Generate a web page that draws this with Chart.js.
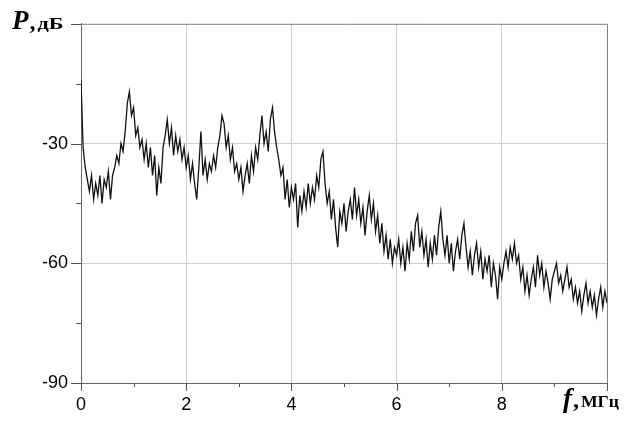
<!DOCTYPE html>
<html>
<head>
<meta charset="utf-8">
<script src="https://cdn.jsdelivr.net/npm/chart.js@4"></script>
<style>
  html, body { margin: 0; padding: 0; background: #fff; }
  #wrap { width: 632px; height: 421px; }
</style>
</head>
<body>
<div id="wrap"><canvas id="spectrumChart" width="632" height="421"></canvas></div>
<script>
// spectrum samples, 0..10 MHz, step 0.04 MHz
const fStep = 0.04;
const powerDb = [
  -14, -31, -36, -39, -42, -38, -44, -40, -43, -38, -45, -39, -41, -37, -44, -38, -36, -33, -35, -30, -32, -27, -20, -17, -23,
  -21, -28, -26, -31, -29, -34, -30, -36, -31, -38, -33, -43, -36, -40, -31, -28, -24, -30, -26, -33, -28, -32, -29, -34, -31,
  -36, -33, -39, -35, -40, -44, -36, -27, -38, -34, -39, -35, -37, -33, -36, -31, -28, -23, -25, -31, -28, -34, -31, -37, -35,
  -39, -36, -42, -38, -35, -40, -33, -37, -31, -34, -28, -23, -30, -27, -32, -24, -21, -27, -31, -34, -38, -36, -44, -39, -46,
  -41, -44, -40, -51, -43, -47, -42, -46, -40, -45, -41, -44, -38, -41, -34, -32, -40, -45, -42, -49, -44, -51, -56, -47, -50,
  -45, -52, -47, -44, -49, -41, -48, -44, -50, -46, -53, -47, -43, -49, -45, -52, -48, -55, -50, -57, -53, -59, -54, -60, -56,
  -58, -54, -60, -56, -62, -55, -59, -52, -57, -50, -48, -56, -52, -58, -54, -61, -55, -59, -53, -58, -51, -47, -54, -58, -53,
  -60, -55, -62, -57, -54, -59, -53, -50, -56, -61, -57, -63, -58, -55, -61, -57, -64, -59, -62, -58, -66, -60, -63, -69, -61,
  -64, -60, -57, -61, -56, -59, -55, -60, -58, -64, -61, -67, -63, -68, -64, -61, -66, -58, -63, -60, -66, -62, -65, -69, -64,
  -62, -60, -65, -63, -67, -64, -61, -66, -64, -69, -66, -70, -67, -72, -68, -65, -70, -67, -71, -68, -73, -69, -66, -71, -67, -70
];
const xTickLabels = [0, 2, 4, 6, 8];
const yTickLabels = [-30, -60, -90];
const yTitle = ['P', ',', 'дБ'];
const xTitle = ['f', ',', 'МГц'];

const points = powerDb.map((v, i) => ({ x: +(i * fStep).toFixed(2), y: v }));

var ctx = document.getElementById('spectrumChart').getContext('2d');

// unit text in the source is wide and squat, so stretch it sideways
function drawTitle(c, parts, x, y, unitWidth) {
    c.font = 'italic bold 27px "Liberation Serif"';
    c.fillText(parts[0], x, y);
    x += c.measureText(parts[0]).width + 1;
    c.font = 'bold 24px "Liberation Serif"';
    c.fillText(parts[1], x, y);
    x += c.measureText(parts[1]).width + 2;
    c.font = 'bold 17px "Liberation Serif"';
    const k = unitWidth / c.measureText(parts[2]).width;
    c.save();
    c.translate(x, y);
    c.scale(k, 1);
    c.fillText(parts[2], 0, 0);
    c.restore();
}

const decorPlugin = {
    id: 'decor',
    afterDraw(chart) {
        const c = chart.ctx;
        const a = chart.chartArea;
        const xs = chart.scales.x;
        const ys = chart.scales.y;
        c.save();
        // frame top / right
        c.strokeStyle = '#808080';
        c.lineWidth = 1;
        c.beginPath();
        c.moveTo(a.left, a.top + 0.5);
        c.lineTo(a.right + 0.5, a.top + 0.5);
        c.lineTo(a.right + 0.5, a.bottom);
        c.stroke();
        // tick marks
        c.strokeStyle = '#555';
        c.beginPath();
        for (let v = -90; v <= 0; v += 15) {
            const py = Math.round(ys.getPixelForValue(v)) + 0.5;
            const len = v % 30 === 0 ? 10 : 5;
            c.moveTo(a.left - len, py);
            c.lineTo(a.left, py);
        }
        for (let v = 0; v <= 10; v += 1) {
            const px = Math.round(xs.getPixelForValue(v)) + 0.5;
            const len = v % 2 === 0 ? 8 : 4;
            c.moveTo(px, a.bottom);
            c.lineTo(px, a.bottom + len);
        }
        c.stroke();
        // axis titles
        c.fillStyle = '#000';
        c.textBaseline = 'alphabetic';
        drawTitle(c, yTitle, 12, 29, 26);
        drawTitle(c, xTitle, 563, 407, 38);
        c.restore();
    }
};

var spectrumChart = new Chart(ctx, {
    type: 'line',
    data: {
        datasets: [{
            data: points,
            borderColor: '#111',
            borderWidth: 1.3,
            pointRadius: 0,
            tension: 0,
            fill: false
        }]
    },
    options: {
        responsive: false,
        animation: false,
        layout: { padding: { top: 23, right: 25, left: 0, bottom: 0 } },
        plugins: {
            legend: { display: false },
            tooltip: { enabled: false }
        },
        scales: {
            x: {
                type: 'linear',
                min: 0,
                max: 10,
                afterFit: (s) => { s.height = 38; },
                ticks: {
                    stepSize: 1,
                    autoSkip: false,
                    maxRotation: 0,
                    padding: 11,
                    color: '#000',
                    font: { family: 'Liberation Sans', size: 18 },
                    callback: (v) => xTickLabels.includes(v) ? String(v) : ''
                },
                grid: {
                    drawTicks: false,
                    color: (c) => (c.tick && c.tick.value % 2 === 0 && c.tick.value > 0 && c.tick.value < 10) ? '#cfcfcf' : 'rgba(0,0,0,0)'
                },
                border: { display: true, color: '#666' }
            },
            y: {
                min: -90,
                max: 0,
                afterFit: (s) => { s.width = 81; },
                ticks: {
                    stepSize: 15,
                    autoSkip: false,
                    padding: 13,
                    color: '#000',
                    font: { family: 'Liberation Sans', size: 18 },
                    callback: (v) => yTickLabels.includes(v) ? String(v) : ''
                },
                grid: {
                    drawTicks: false,
                    color: (c) => (c.tick && (c.tick.value === -30 || c.tick.value === -60)) ? '#cfcfcf' : 'rgba(0,0,0,0)'
                },
                border: { display: true, color: '#666' }
            }
        }
    },
    plugins: [decorPlugin]
});
</script>
</body>
</html>
